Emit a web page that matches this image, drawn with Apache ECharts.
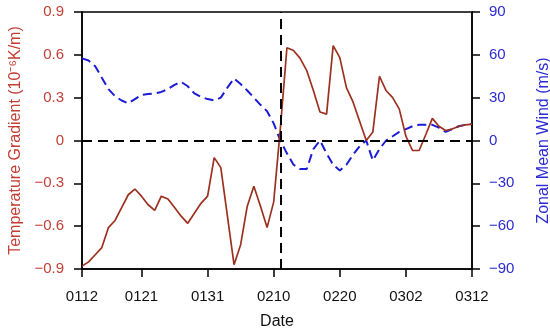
<!DOCTYPE html>
<html>
<head>
<meta charset="utf-8">
<script src="https://cdn.jsdelivr.net/npm/echarts@6/dist/echarts.min.js"></script>
<style>
html,body{margin:0;padding:0;background:#fff;}
#c{width:550px;height:331px;}
</style>
</head>
<body>
<div id="c"></div>
<script>
// Dates: 12 Jan to 12 Mar (non-leap year), one value per day
const startDate = [2019, 0, 12];
const nDays = 60;
const tickLabels = ['0112','0121','0131','0210','0220','0302','0312'];
const eventDate = '0211';

// Temperature gradient (10^-6 K/m)
const tempGradient = [
  -0.88,-0.85,-0.80,-0.75,-0.61,-0.56,-0.47,-0.38,-0.34,-0.39,
  -0.45,-0.49,-0.39,-0.41,-0.47,-0.53,-0.58,-0.51,-0.44,-0.39,
  -0.12,-0.19,-0.53,-0.87,-0.73,-0.46,-0.32,-0.46,-0.61,-0.43,
   0.08, 0.65, 0.63, 0.575,0.49, 0.35, 0.20, 0.185,0.665,0.58,
   0.37, 0.27, 0.135,0.00, 0.06, 0.45, 0.35, 0.30, 0.22, 0.03,
  -0.07,-0.07, 0.04, 0.155,0.10, 0.07, 0.08, 0.10, 0.11, 0.115
];

// Zonal mean wind (m/s)
const zonalWind = [
  57.5,56,52,44,36,31,28,26,29,32,
  32.5,33,34,36,39,41,38,33,30.5,29,
  28,30,37,43.5,39.5,35,30,25,20.5,12,
  0,-9,-17,-20,-20,-6,0,-9,-17,-21,
  -17,-10,-4,0,-14,-6,0,3,6,8,
  10,11,11,11,9,6,8,10,11,11.5
];

const categories = [];
for (let i = 0; i < nDays; i++) {
  const d = new Date(startDate[0], startDate[1], startDate[2] + i);
  const mm = String(d.getMonth() + 1).padStart(2, '0');
  const dd = String(d.getDate()).padStart(2, '0');
  categories.push(mm + dd);
}

const FONT = '"Liberation Sans", Arial, Helvetica, sans-serif';
const RED_TXT = '#c23f36';
const RED_LINE = '#9c3120';
const BLUE_TXT = '#2b2bd4';
const BLUE_LINE = '#1c1cd6';

function fmt(v, dec) {
  if (Math.abs(v) < 1e-9) return '0';
  const s = Math.abs(v).toFixed(dec);
  return v < 0 ? '\u2212' + s : s;
}
const showTick = (idx) => tickLabels.indexOf(categories[idx]) >= 0;

const chart = echarts.init(document.getElementById('c'), null, {renderer: 'canvas'});
chart.setOption({
  animation: false,
  backgroundColor: '#fff',
  grid: {left: 82, right: 78, top: 12, bottom: 62, show: true, borderColor: '#000', borderWidth: 1.5,
         containLabel: false, outerBoundsMode: 'none'},
  xAxis: {
    type: 'category',
    data: categories,
    boundaryGap: false,
    name: 'Date',
    nameLocation: 'middle',
    nameGap: 45,
    nameTextStyle: {fontFamily: FONT, fontSize: 16, color: '#111'},
    axisLine: {onZero: false, lineStyle: {color: '#000', width: 1.5}},
    axisTick: {show: true, inside: false, length: 8, interval: (i) => showTick(i), lineStyle: {color: '#000', width: 1.5}},
    axisLabel: {interval: (i) => showTick(i), margin: 20, fontFamily: FONT, fontSize: 15, color: '#111'},
    splitLine: {show: false}
  },
  yAxis: [
    {
      type: 'value', min: -0.9, max: 0.9, interval: 0.3, position: 'left',
      name: 'Temperature Gradient (10\u207B\u2076K/m)',
      nameLocation: 'middle', nameGap: 58, nameRotate: 90,
      nameTextStyle: {fontFamily: FONT, fontSize: 16, color: RED_TXT},
      axisLine: {show: true, onZero: false, lineStyle: {color: '#000', width: 1.5}},
      axisTick: {show: true, inside: false, length: 8, lineStyle: {color: '#000', width: 1.5}},
      axisLabel: {margin: 18, fontFamily: FONT, fontSize: 15, color: RED_TXT, formatter: (v) => fmt(v, 1)},
      splitLine: {show: false}
    },
    {
      type: 'value', min: -90, max: 90, interval: 30, position: 'right',
      name: 'Zonal Mean Wind (m/s)',
      nameLocation: 'middle', nameGap: 64, nameRotate: 90,
      nameTextStyle: {fontFamily: FONT, fontSize: 16, color: BLUE_TXT},
      axisLine: {show: true, onZero: false, lineStyle: {color: '#000', width: 1.5}},
      axisTick: {show: true, inside: false, length: 8, lineStyle: {color: '#000', width: 1.5}},
      axisLabel: {margin: 17, fontFamily: FONT, fontSize: 15, color: BLUE_TXT, formatter: (v) => fmt(v, 0)},
      splitLine: {show: false}
    }
  ],
  series: [
    {
      type: 'line', name: 'wind', yAxisIndex: 1, data: zonalWind,
      showSymbol: false, symbol: 'none',
      lineStyle: {color: BLUE_LINE, width: 2, type: [9, 5]},
      z: 2
    },
    {
      type: 'line', name: 'temp', yAxisIndex: 0, data: tempGradient,
      showSymbol: false, symbol: 'none',
      lineStyle: {color: RED_LINE, width: 1.7},
      z: 3,
      markLine: {
        silent: true, symbol: 'none', label: {show: false},
        lineStyle: {color: '#000', width: 2, type: [10, 6]},
        data: [{yAxis: 0}, {xAxis: eventDate}],
        z: 5
      }
    }
  ]
});
</script>
</body>
</html>
